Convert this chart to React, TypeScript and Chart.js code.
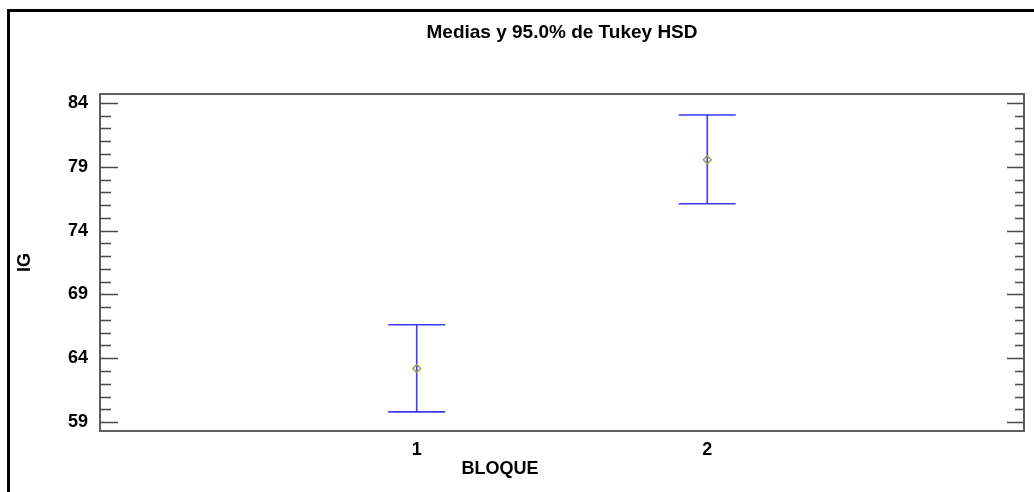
import React, { useEffect, useRef } from "react";
import { Chart, registerables } from "chart.js";

Chart.register(...registerables);

const categories = [1, 2];
const categoryLabels = ["1", "2"];
const means = [63.2, 79.55];
const lowerLimits = [59.8, 76.1];
const upperLimits = [66.62, 83.05];
const yTicks = [59, 64, 69, 74, 79, 84];
const yMin = 58.3;
const yMax = 84.7;
const xMin = -0.09;
const xMax = 3.09;

const FONT = "'Liberation Sans', Arial, sans-serif";

const framePlugin = {
  id: "framePlugin",
  beforeDatasetsDraw(chart: any) {
    const { ctx, chartArea, scales } = chart;
    const y = scales.y;
    const x = scales.x;
    ctx.save();
    // outer black frame
    ctx.strokeStyle = "#000";
    ctx.lineWidth = 3;
    ctx.strokeRect(8.5, 10.5, 1200, 700);
    // plot frame
    ctx.strokeStyle = "#5e5e5e";
    ctx.lineWidth = 2;
    ctx.strokeRect(chartArea.left, chartArea.top, chartArea.right - chartArea.left, chartArea.bottom - chartArea.top);
    // inner ticks left and right
    ctx.lineWidth = 1.6;
    ctx.strokeStyle = "#4a4a4a";
    for (let v = Math.ceil(yMin); v <= Math.floor(yMax); v++) {
      const py = Math.round(y.getPixelForValue(v)) + 0.5;
      const major = yTicks.includes(v);
      const lenL = major ? 18 : 11;
      const lenR = major ? 17 : 9;
      ctx.beginPath();
      ctx.moveTo(chartArea.left, py);
      ctx.lineTo(chartArea.left + lenL, py);
      ctx.moveTo(chartArea.right, py);
      ctx.lineTo(chartArea.right - lenR, py);
      ctx.stroke();
    }
    // error bars
    ctx.strokeStyle = "#3a3aff";
    ctx.lineWidth = 1.6;
    categories.forEach((c, i) => {
      const px = x.getPixelForValue(c);
      const pLo = y.getPixelForValue(lowerLimits[i]);
      const pHi = y.getPixelForValue(upperLimits[i]);
      const hw = 28.5;
      ctx.beginPath();
      ctx.moveTo(px, pLo);
      ctx.lineTo(px, pHi);
      ctx.moveTo(px - hw, pLo);
      ctx.lineTo(px + hw, pLo);
      ctx.moveTo(px - hw, pHi);
      ctx.lineTo(px + hw, pHi);
      ctx.stroke();
    });
    // x axis title
    ctx.fillStyle = "#000";
    ctx.font = `bold 18px ${FONT}`;
    ctx.textAlign = "center";
    ctx.textBaseline = "middle";
    ctx.fillText("BLOQUE", 500, 469);
    ctx.restore();
  },
};

export default function App() {
  const ref = useRef<HTMLCanvasElement | null>(null);
  useEffect(() => {
    if (!ref.current) return;
    const chart = new Chart(ref.current, {
      type: "scatter",
      data: {
        datasets: [
          {
            label: "Medias",
            data: categories.map((c, i) => ({ x: c, y: means[i] })),
            pointStyle: "rectRot",
            pointRadius: 4,
            pointBorderWidth: 1.4,
            pointBorderColor: "#9c9c3c",
            pointBackgroundColor: "rgba(0,0,0,0)",
          },
        ],
      },
      options: {
        responsive: false,
        animation: false,
        layout: { padding: { left: 0, right: 10, top: 0, bottom: 0 } },
        plugins: {
          legend: { display: false },
          tooltip: { enabled: false },
          title: {
            display: true,
            fullSize: false,
            text: "Medias y 95.0% de Tukey HSD",
            color: "#000",
            font: { family: FONT, size: 19, weight: "bold" },
            padding: { top: 21.6, bottom: 49.6 },
          },
        },
        scales: {
          x: {
            type: "linear",
            min: xMin,
            max: xMax,
            grid: { display: false, drawTicks: false },
            border: { display: false },
            afterBuildTicks: (s: any) => {
              s.ticks = categories.map((v) => ({ value: v }));
            },
            afterFit: (s: any) => {
              s.height = 61;
            },
            ticks: {
              padding: 8,
              color: "#000",
              font: { family: FONT, size: 18, weight: "bold" },
              callback: (v: any) => {
                const idx = categories.indexOf(Number(v));
                return idx >= 0 ? categoryLabels[idx] : "";
              },
            },
          },
          y: {
            type: "linear",
            min: yMin,
            max: yMax,
            grid: { display: false, drawTicks: false },
            border: { display: false },
            afterBuildTicks: (s: any) => {
              s.ticks = yTicks.map((v) => ({ value: v }));
            },
            afterFit: (s: any) => {
              s.width = 100;
            },
            title: {
              display: true,
              text: "IG",
              color: "#000",
              font: { family: FONT, size: 18, weight: "bold" },
              padding: { top: 14, bottom: 0 },
            },
            ticks: {
              padding: 12,
              color: "#000",
              font: { family: FONT, size: 18, weight: "bold" },
              callback: (v: any) => String(v),
            },
          },
        },
      },
      plugins: [framePlugin],
    });
    return () => chart.destroy();
  }, []);
  return (
    <div style={{ position: "fixed", left: 0, top: 0, width: 1034, height: 492, background: "#fff" }}>
      <canvas ref={ref} width={1034} height={492} />
    </div>
  );
}
